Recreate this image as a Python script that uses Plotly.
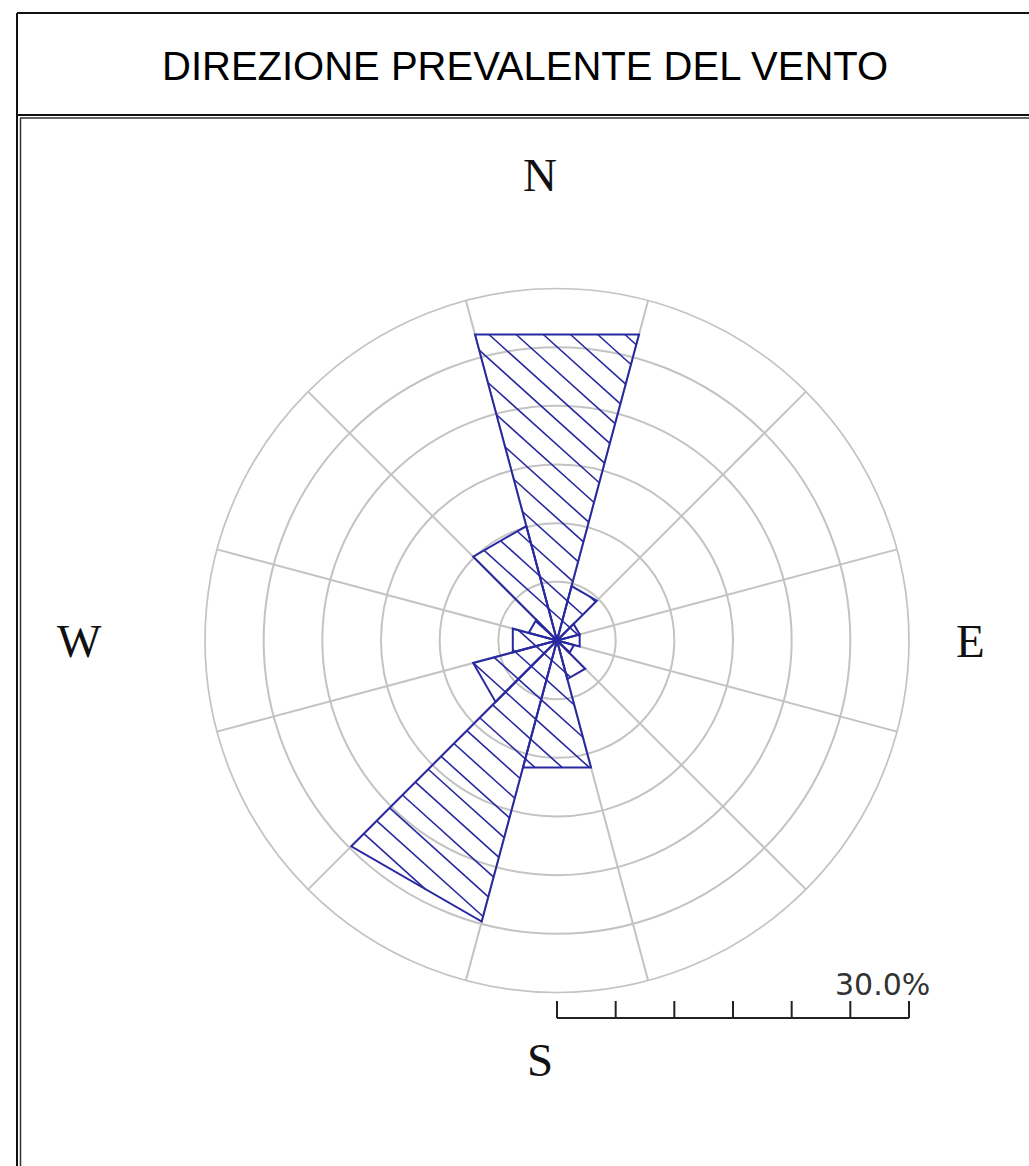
import math
import plotly.graph_objects as go

# ---- data ----
directions = [0, 30, 60, 90, 120, 150, 180, 210, 240, 270, 300, 330]
frequencies = [27.0, 4.8, 2.0, 2.0, 1.5, 3.4, 11.2, 24.8, 7.4, 3.9, 2.5, 10.1]
sector_width = 30
ring_values = [5, 10, 15, 20, 25, 30]
compass_labels = ["N", "E", "S", "W"]
scale_label = "30.0%"
title_text = "DIREZIONE PREVALENTE DEL VENTO"

# ---- style / layout helpers ----
W, H = 1029, 1166
BLUE = "#2828a0"
GRID = "#c3c3c3"
HATCH_STEP = 1.55    # perpendicular hatch spacing, in radial-axis units
HATCH_ANGLE = 42.0   # degrees below horizontal, running down to the right


def px(x):
    return x / W


def py(y):
    return 1 - y / H


cx, cy, R = 557, 640.5, 352
rmax = max(ring_values)
half = sector_width / 2


def to_xy(r, bearing):
    a = math.radians(bearing)
    return r * math.sin(a), r * math.cos(a)


def to_rt(x, y):
    return math.hypot(x, y), math.degrees(math.atan2(x, y)) % 360


def hatch_segments(direction, value):
    """Diagonal hatch lines clipped to the straight-edged wedge."""
    ha = math.radians(HATCH_ANGLE)
    nx, ny = math.sin(ha), math.cos(ha)      # normal of the hatch lines
    dx, dy = math.cos(ha), -math.sin(ha)     # direction of the hatch lines
    verts = [(0.0, 0.0), to_xy(value, direction - half), to_xy(value, direction + half)]
    proj = [x * nx + y * ny for x, y in verts]
    kmin = math.ceil(min(proj) / HATCH_STEP)
    kmax = math.floor(max(proj) / HATCH_STEP)
    rr, tt = [], []
    for n in range(kmin, kmax + 1):
        k = n * HATCH_STEP
        pts = []
        for i in range(3):
            p, q = verts[i], verts[(i + 1) % 3]
            fp = p[0] * nx + p[1] * ny - k
            fq = q[0] * nx + q[1] * ny - k
            if fp == fq:
                continue
            t = fp / (fp - fq)
            if 0 <= t <= 1:
                pts.append((p[0] + t * (q[0] - p[0]), p[1] + t * (q[1] - p[1])))
        if len(pts) < 2:
            continue
        pts.sort(key=lambda p: p[0] * dx + p[1] * dy)
        a, b = pts[0], pts[-1]
        if math.hypot(a[0] - b[0], a[1] - b[1]) < 1e-6:
            continue
        for p in (a, b):
            r, th = to_rt(*p)
            rr.append(r)
            tt.append(th)
        rr.append(None)
        tt.append(None)
    return rr, tt


fig = go.Figure()
for d, f in zip(directions, frequencies):
    hr, ht = hatch_segments(d, f)
    fig.add_trace(go.Scatterpolar(r=hr, theta=ht, mode="lines",
                                  line=dict(color=BLUE, width=1.6),
                                  showlegend=False, hoverinfo="skip"))
for d, f in zip(directions, frequencies):
    fig.add_trace(go.Scatterpolar(
        r=[0, f, f, 0], theta=[d, d - half, d + half, d],
        mode="lines", line=dict(color=BLUE, width=2.0),
        showlegend=False, hoverinfo="skip",
    ))

shapes = []
# frame
blk = dict(color="#111", width=2)
shapes.append(dict(type="line", xref="paper", yref="paper", x0=px(17), x1=px(1040), y0=py(13), y1=py(13), line=blk))
shapes.append(dict(type="line", xref="paper", yref="paper", x0=px(17), x1=px(17), y0=py(13), y1=py(1180), line=blk))
shapes.append(dict(type="line", xref="paper", yref="paper", x0=px(17), x1=px(1040), y0=py(115), y1=py(115), line=blk))
shapes.append(dict(type="line", xref="paper", yref="paper", x0=px(20), x1=px(1040), y0=py(118), y1=py(118), line=dict(color="#333", width=1.5)))
shapes.append(dict(type="line", xref="paper", yref="paper", x0=px(20.5), x1=px(20.5), y0=py(118), y1=py(1180), line=dict(color="#333", width=1.5)))

# scale bar (length follows the radial scale)
bar_y = 1018
shapes.append(dict(type="line", xref="paper", yref="paper", x0=px(cx), x1=px(cx + R), y0=py(bar_y), y1=py(bar_y), line=dict(color="#222", width=2)))
for v in [0] + ring_values:
    xv = cx + R * v / rmax
    shapes.append(dict(type="line", xref="paper", yref="paper", x0=px(xv), x1=px(xv), y0=py(bar_y), y1=py(bar_y - 17), line=dict(color="#222", width=2)))

annotations = [
    dict(text=title_text, x=px(525), y=py(66), xref="paper", yref="paper", showarrow=False,
         font=dict(family="Liberation Sans, Arial", size=40, color="#000"), xanchor="center", yanchor="middle"),
    dict(text=scale_label, x=px(932), y=py(984), xref="paper", yref="paper", showarrow=False,
         font=dict(family="DejaVu Sans, Verdana", size=30, color="#333"), xanchor="right", yanchor="middle"),
]
compass_pos = {"N": (540, 175), "E": (970, 641), "S": (540, 1060), "W": (79, 641)}
for lab in compass_labels:
    x, y = compass_pos[lab]
    annotations.append(dict(text=lab, x=px(x), y=py(y), xref="paper", yref="paper", showarrow=False,
                            font=dict(family="Liberation Serif, Times New Roman", size=47, color="#111"),
                            xanchor="center", yanchor="middle"))

fig.update_layout(
    width=W, height=H, autosize=False,
    margin=dict(l=0, r=0, t=0, b=0),
    paper_bgcolor="white",
    polar=dict(
        domain=dict(x=[px(cx - R), px(cx + R)], y=[py(cy + R), py(cy - R)]),
        bgcolor="white",
        radialaxis=dict(range=[0, rmax], tickvals=ring_values, showticklabels=False, ticks="",
                        showline=False, gridcolor=GRID, gridwidth=1.7),
        angularaxis=dict(rotation=90, direction="clockwise",
                         tickvals=[d + half for d in directions],
                         showticklabels=False, ticks="", gridcolor=GRID, gridwidth=1.7,
                         showline=True, linecolor=GRID, linewidth=1.7),
    ),
    shapes=shapes,
    annotations=annotations,
)

fig.write_html("out.html", config={"displayModeBar": False},
               post_script="document.body.style.margin='0';")
